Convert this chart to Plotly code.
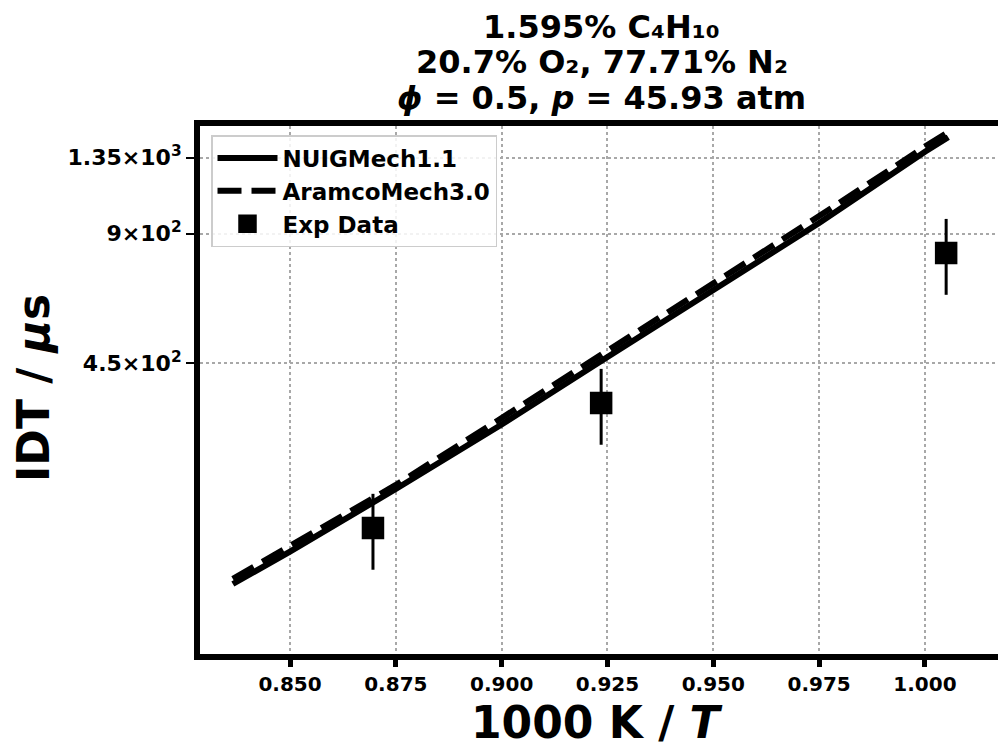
import plotly.graph_objects as go

# ---- data ----
model_x = [0.8365, 0.850, 0.875, 0.900, 0.925, 0.950, 0.975, 1.000, 1.0055]
nuig_idt = [138.4, 164.5, 229.9, 324.5, 465.4, 666.0, 952.0, 1394.0, 1505.0]
aramco_idt = [142.2, 169.5, 234.9, 336.0, 480.5, 691.0, 988.0, 1432.0, 1548.0]

exp_x = [0.8696, 0.9235, 1.005]
exp_idt = [186.7, 364.0, 811.0]
exp_err_pct = 20

x_ticks = [0.850, 0.875, 0.900, 0.925, 0.950, 0.975, 1.000]
x_tick_labels = ["0.850", "0.875", "0.900", "0.925", "0.950", "0.975", "1.000"]
y_ticks = [450, 900, 1350]
y_tick_labels = ["4.5×10<sup>2</sup>", "9×10<sup>2</sup>", "1.35×10<sup>3</sup>"]

title_lines = [
    "1.595% C₄H₁₀",
    "20.7% O₂, 77.71% N₂",
    "<i>ϕ</i> = 0.5, <i>p</i> = 45.93 atm",
]
x_title = "1000 K / <i>T</i>"
y_title = "IDT / <i>μ</i>s"

FONT = "DejaVu Sans"
# page body adds an 8px offset; figure coordinates are screen - 8
W, H = 998, 740
L, R, T, B = 192, 3, 118, 94
plot_w = W - L - R
plot_h = H - T - B


def px_x(p):
    return (p - L) / plot_w


def px_y(p):
    return (H - B - p) / plot_h


fig = go.Figure()
fig.add_trace(go.Scatter(
    x=model_x, y=nuig_idt, mode="lines", name="NUIGMech1.1",
    line=dict(color="black", width=6),
))
fig.add_trace(go.Scatter(
    x=model_x, y=aramco_idt, mode="lines", name="AramcoMech3.0",
    line=dict(color="black", width=6, dash="24px,10px"),
))
fig.add_trace(go.Scatter(
    x=exp_x, y=exp_idt, mode="markers", name="Exp Data",
    marker=dict(symbol="square", size=20, color="black",
                line=dict(color="black", width=2.5)),
    error_y=dict(type="percent", value=exp_err_pct, color="black",
                 thickness=3, width=0),
))

for txt, yc in zip(title_lines, [19, 54, 90]):
    fig.add_annotation(
        text=txt, x=0.5, xref="paper", y=px_y(yc), yref="paper",
        xanchor="center", yanchor="middle", showarrow=False,
        font=dict(family=FONT, size=32, color="black", weight="bold"),
    )

fig.add_annotation(
    text=x_title, x=px_x(589), xref="paper", y=px_y(714), yref="paper",
    xanchor="center", yanchor="middle", showarrow=False,
    font=dict(family=FONT, size=44, color="black", weight="bold"),
)
fig.add_annotation(
    text=y_title, x=px_x(25), xref="paper", y=px_y(380), yref="paper",
    xanchor="center", yanchor="middle", showarrow=False, textangle=-90,
    font=dict(family=FONT, size=44, color="black", weight="bold"),
)

axis_common = dict(
    showline=True, linecolor="black", linewidth=6, mirror=True,
    showgrid=True, gridcolor="#a8a8a8", gridwidth=1.5, griddash="dot",
    zeroline=False, ticks="outside", tickcolor="black",
)

fig.update_xaxes(
    range=[0.82874, 1.01843], tickvals=x_ticks, ticktext=x_tick_labels,
    tickfont=dict(family=FONT, size=20, color="black", weight="bold"),
    ticklen=7, tickwidth=5,
    **axis_common,
)
fig.update_yaxes(
    type="log", range=[1.9787, 3.2038], tickvals=y_ticks, ticktext=y_tick_labels,
    tickfont=dict(family=FONT, size=22, color="black", weight="bold"),
    ticklen=8, tickwidth=2,
    **axis_common,
)

fig.update_layout(
    width=W, height=H,
    margin=dict(l=L, r=R, t=T, b=B, autoexpand=False),
    plot_bgcolor="white", paper_bgcolor="white",
    showlegend=True,
    legend=dict(
        x=px_x(203), y=px_y(127), xanchor="left", yanchor="top",
        bgcolor="rgba(255,255,255,0.85)", bordercolor="#cccccc", borderwidth=1.5,
        font=dict(family=FONT, size=23, color="black", weight="bold"),
        traceorder="normal", itemwidth=60,
    ),
)

fig.write_html("out.html")
